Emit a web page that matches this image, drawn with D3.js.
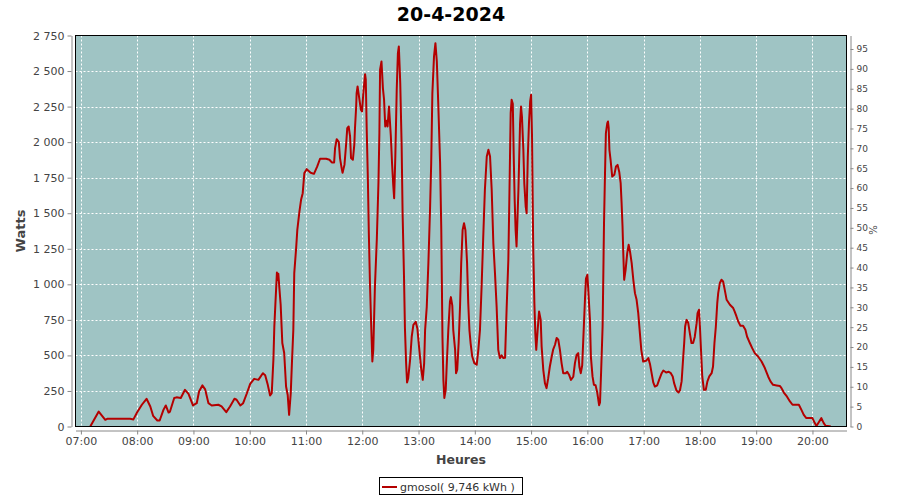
<!DOCTYPE html>
<html>
<head>
<meta charset="utf-8">
<script src="https://cdn.jsdelivr.net/npm/d3@7/dist/d3.min.js"></script>
<style>
  body { margin: 0; background: #fff; }
  svg { display: block; font-family: "DejaVu Sans", sans-serif; }
</style>
</head>
<body>
<svg id="chart" width="900" height="500"></svg>
<script>
const chartTitle = "20-4-2024";
const seriesName = "gmosol( 9,746 kWh )";
const yLabel = "Watts";
const y2Label = "%";
const xLabel = "Heures";
const day = "2024-04-20";
const xDomain = ["06:54:15", "20:36:18"];
const xTickTimes = ["07:00","08:00","09:00","10:00","11:00","12:00","13:00","14:00","15:00","16:00","17:00","18:00","19:00","20:00"];
const yTicks = [0,250,500,750,1000,1250,1500,1750,2000,2250,2500,2750];
const y2Ticks = [0,5,10,15,20,25,30,35,40,45,50,55,60,65,70,75,80,85,90,95];
const yMax = 2750;
const y2Max = 98.4;

const times = ["07:10:00","07:19:00","07:26:00","07:28:00","07:52:30","07:56:00","08:00:00","08:05:00","08:10:00","08:14:00","08:17:00","08:21:30","08:24:00","08:28:00","08:30:30","08:33:30","08:35:00","08:39:30","08:42:00","08:46:30","08:51:00","08:54:45","08:59:30","09:03:30","09:06:00","09:09:30","09:12:30","09:16:00","09:19:30","09:26:30","09:30:00","09:35:00","09:39:00","09:43:45","09:46:00","09:50:00","09:53:00","09:57:00","10:00:30","10:04:45","10:09:15","10:14:00","10:16:30","10:19:15","10:21:45","10:23:30","10:25:15","10:26:15","10:27:30","10:29:00","10:30:00","10:30:30","10:31:30","10:33:00","10:34:45","10:36:45","10:38:45","10:40:30","10:42:00","10:43:45","10:45:00","10:46:30","10:47:30","10:49:30","10:50:45","10:53:00","10:54:45","10:56:30","10:58:15","11:00:45","11:05:00","11:08:30","11:12:00","11:15:00","11:21:30","11:25:00","11:27:30","11:30:00","11:31:00","11:32:45","11:35:00","11:36:15","11:38:00","11:39:00","11:41:00","11:42:45","11:44:00","11:45:30","11:47:00","11:48:00","11:50:00","11:51:30","11:52:15","11:53:30","11:54:00","11:55:00","11:56:30","11:58:30","11:59:45","12:01:00","12:03:00","12:03:45","12:04:45","12:06:00","12:07:00","12:08:15","12:09:30","12:10:45","12:11:45","12:13:30","12:15:30","12:17:15","12:18:15","12:19:00","12:20:30","12:22:00","12:23:15","12:24:30","12:26:00","12:27:00","12:28:30","12:30:30","12:31:45","12:33:00","12:34:00","12:35:15","12:36:45","12:38:00","12:39:00","12:40:30","12:42:00","12:43:00","12:44:30","12:45:30","12:46:45","12:47:45","12:49:00","12:51:00","12:52:45","12:54:30","12:57:00","12:58:45","13:00:30","13:02:45","13:04:30","13:06:00","13:07:00","13:08:45","13:10:30","13:12:15","13:13:30","13:14:45","13:16:30","13:18:00","13:19:30","13:21:00","13:23:00","13:24:15","13:25:30","13:26:30","13:27:30","13:29:00","13:30:00","13:31:45","13:33:30","13:34:30","13:36:00","13:37:00","13:39:00","13:40:00","13:41:15","13:42:45","13:44:15","13:45:30","13:47:00","13:48:30","13:50:00","13:51:45","13:53:00","13:54:15","13:55:30","13:57:15","13:59:30","14:02:00","14:03:45","14:05:30","14:07:15","14:09:00","14:10:45","14:12:45","14:14:30","14:16:15","14:18:00","14:19:45","14:21:30","14:23:15","14:25:00","14:26:45","14:28:30","14:30:30","14:32:15","14:34:00","14:35:45","14:36:45","14:38:15","14:39:15","14:40:30","14:41:30","14:42:30","14:43:30","14:44:30","14:46:30","14:48:15","14:49:15","14:50:15","14:51:45","14:52:45","14:54:15","14:55:15","14:56:30","14:57:45","14:59:00","15:00:00","15:01:00","15:02:15","15:03:30","15:04:30","15:05:30","15:07:00","15:08:30","15:10:15","15:11:15","15:13:00","15:14:45","15:16:30","15:18:15","15:20:00","15:22:00","15:23:30","15:25:30","15:27:15","15:29:00","15:30:45","15:32:30","15:34:15","15:37:00","15:38:30","15:40:45","15:42:30","15:45:00","15:46:45","15:48:30","15:50:15","15:51:30","15:53:00","15:54:30","15:55:30","15:57:30","15:58:30","16:00:00","16:01:00","16:02:45","16:03:45","16:05:30","16:07:00","16:08:45","16:10:30","16:12:30","16:13:30","16:14:45","16:16:15","16:17:00","16:17:45","16:18:45","16:19:45","16:21:15","16:22:00","16:22:45","16:23:30","16:24:45","16:26:30","16:28:45","16:30:30","16:32:15","16:34:00","16:35:30","16:36:30","16:37:30","16:38:15","16:39:15","16:40:45","16:42:30","16:44:00","16:45:30","16:47:15","16:49:00","16:50:45","16:52:30","16:54:15","16:56:00","16:57:30","16:59:30","17:02:30","17:05:00","17:06:45","17:08:30","17:10:15","17:12:00","17:14:30","17:16:30","17:19:15","17:21:00","17:24:00","17:26:45","17:29:00","17:31:00","17:32:30","17:35:00","17:37:15","17:38:45","17:40:30","17:42:15","17:43:15","17:44:15","17:45:45","17:47:30","17:49:15","17:51:00","17:52:45","17:54:30","17:56:30","17:57:30","17:59:00","18:00:00","18:01:00","18:02:30","18:04:15","18:06:15","18:08:00","18:10:00","18:12:30","18:14:00","18:15:30","18:17:00","18:18:30","18:19:30","18:21:15","18:23:00","18:24:45","18:26:30","18:28:30","18:32:00","18:35:30","18:37:00","18:39:00","18:40:45","18:43:15","18:46:00","18:48:30","18:50:15","18:53:15","18:55:45","18:58:30","19:02:00","19:05:45","19:09:15","19:12:45","19:15:15","19:18:00","19:21:45","19:25:15","19:27:00","19:29:30","19:32:15","19:36:00","19:38:45","19:45:30","19:48:15","19:50:45","19:53:30","20:00:00","20:02:30","20:04:15","20:06:45","20:09:30","20:12:00","20:14:00","20:18:15","20:19:30"];

const watts = [0,105,47,54,54,50,100,153,195,141,75,42,42,117,148,98,105,200,205,200,258,230,148,164,246,289,261,164,148,153,141,101,141,195,188,148,164,234,300,335,328,375,360,293,218,235,469,703,880,1083,1030,1075,985,856,587,517,281,222,82,235,446,680,1079,1255,1383,1512,1594,1641,1782,1810,1785,1777,1829,1883,1883,1876,1857,1857,1958,2021,2000,1888,1817,1784,1840,1981,2099,2110,2040,1888,1876,1981,2099,2251,2345,2392,2322,2228,2216,2333,2478,2440,2087,1735,1360,997,715,457,540,985,1313,1712,2063,2509,2567,2380,2298,2110,2150,2110,2251,2040,1852,1700,1606,1900,2368,2626,2673,2415,1969,1501,1055,692,446,309,340,469,633,715,736,690,563,411,328,446,680,840,1149,1524,1852,2345,2603,2696,2567,2275,1852,1383,633,328,200,260,422,680,879,910,850,680,539,375,400,587,844,1149,1383,1430,1380,1149,868,680,587,492,446,434,539,680,985,1336,1665,1899,1946,1899,1665,1290,1079,844,539,481,500,481,483,844,1172,1571,2204,2298,2270,1899,1594,1383,1266,1665,2134,2251,2180,1946,1712,1547,1500,1899,2134,2286,2333,2040,1266,868,657,539,680,809,750,563,399,305,270,340,422,492,540,575,622,610,539,446,375,375,385,360,328,350,446,504,516,420,375,430,587,900,1040,1067,960,750,492,352,293,290,240,150,170,399,703,1055,1430,1758,2063,2134,2145,2100,1946,1876,1758,1770,1829,1840,1790,1712,1571,1407,1231,1032,1100,1219,1278,1230,1149,1032,938,891,797,657,539,457,462,481,440,375,310,281,290,328,375,394,380,385,375,352,305,253,239,255,317,492,587,703,750,730,657,587,587,630,727,797,821,703,563,352,258,258,317,352,375,422,587,703,868,938,1009,1032,1020,961,891,856,833,810,774,740,708,708,680,633,587,551,516,492,457,411,352,317,293,289,285,270,239,216,176,153,153,117,82,59,59,24,3,30,59,24,5,2,0];

const parseT = d3.timeParse("%Y-%m-%d %H:%M:%S");
const parseHM = d3.timeParse("%Y-%m-%d %H:%M");
const data = times.map((t, i) => ({ t: parseT(day + " " + t), v: watts[i] }));

const svg = d3.select("#chart");
const plot = { left: 75.5, top: 35.5, right: 846.5, bottom: 426.5 };

const x = d3.scaleTime()
  .domain(xDomain.map(t => parseT(day + " " + t)))
  .range([plot.left, plot.right]);
const y = d3.scaleLinear().domain([0, yMax]).range([plot.bottom, plot.top]);
const y2 = d3.scaleLinear().domain([0, y2Max]).range([plot.bottom, plot.top]);

const frLocale = d3.formatLocale({ decimal: ",", thousands: " ", grouping: [3], currency: ["", ""] });
const fmt = frLocale.format(",d");

// plot background
svg.append("rect")
  .attr("x", plot.left).attr("y", plot.top)
  .attr("width", plot.right - plot.left).attr("height", plot.bottom - plot.top)
  .attr("fill", "#9fc4c4");

// grid
const xTicks = xTickTimes.map(t => parseHM(day + " " + t));
const grid = svg.append("g").attr("stroke", "#fff").attr("stroke-width", 1).attr("stroke-dasharray", "2,2");
grid.selectAll("line.v").data(xTicks).enter().append("line")
  .attr("x1", d => Math.round(x(d)) + 0.5).attr("x2", d => Math.round(x(d)) + 0.5)
  .attr("y1", plot.top).attr("y2", plot.bottom);
grid.selectAll("line.h").data(yTicks.filter(d => d > 0 && d < yMax)).enter().append("line")
  .attr("y1", d => Math.round(y(d)) + 0.5).attr("y2", d => Math.round(y(d)) + 0.5)
  .attr("x1", plot.left).attr("x2", plot.right);

// clip
svg.append("clipPath").attr("id", "clip").append("rect")
  .attr("x", plot.left).attr("y", plot.top)
  .attr("width", plot.right - plot.left).attr("height", plot.bottom - plot.top);

const line = d3.line().x(d => x(d.t)).y(d => y(d.v));
svg.append("path").datum(data)
  .attr("clip-path", "url(#clip)")
  .attr("d", line)
  .attr("fill", "none")
  .attr("stroke", "#b40000")
  .attr("stroke-width", 2)
  .attr("stroke-linejoin", "round");

// border
svg.append("rect")
  .attr("x", plot.left).attr("y", plot.top)
  .attr("width", plot.right - plot.left).attr("height", plot.bottom - plot.top)
  .attr("fill", "none").attr("stroke", "#000").attr("stroke-width", 1);

function styleAxis(g, size) {
  g.select(".domain").attr("stroke", "#888");
  g.selectAll(".tick line").attr("stroke", "#888");
  g.selectAll(".tick text").attr("fill", "#444").attr("font-size", size)
    .attr("font-family", "DejaVu Sans, sans-serif");
}

// left axis
const gy = svg.append("g").attr("transform", "translate(71.5,0)")
  .call(d3.axisLeft(y).tickValues(yTicks).tickFormat(fmt).tickSize(4).tickSizeOuter(0).tickPadding(3));
styleAxis(gy, 11);

// right axis
const gy2 = svg.append("g").attr("transform", "translate(850.5,0)")
  .call(d3.axisRight(y2).tickValues(y2Ticks).tickFormat(d3.format("d")).tickSize(3).tickSizeOuter(0).tickPadding(3));
styleAxis(gy2, 9);

// bottom axis
const gx = svg.append("g").attr("transform", "translate(0,430.5)")
  .call(d3.axisBottom(x).tickValues(xTicks).tickFormat(d3.timeFormat("%H:%M")).tickSize(4).tickSizeOuter(0).tickPadding(3));
styleAxis(gx, 11);

// title
svg.append("text").attr("x", 451).attr("y", 21).attr("text-anchor", "middle")
  .attr("font-size", 19).attr("font-weight", "bold").attr("fill", "#000").text(chartTitle);

// axis labels
svg.append("text").attr("x", 461).attr("y", 464).attr("text-anchor", "middle")
  .attr("font-size", 12.5).attr("font-weight", "bold").attr("fill", "#444").text(xLabel);
svg.append("text").attr("transform", "translate(25,231) rotate(-90)").attr("text-anchor", "middle")
  .attr("font-size", 13).attr("font-weight", "bold").attr("fill", "#444").text(yLabel);
svg.append("text").attr("transform", "translate(877,230) rotate(-90)").attr("text-anchor", "middle")
  .attr("font-size", 10).attr("fill", "#444").text(y2Label);

// legend
const lg = svg.append("g");
lg.append("rect").attr("x", 379.5).attr("y", 477.5).attr("width", 143).attr("height", 17)
  .attr("fill", "#fff").attr("stroke", "#000");
lg.append("line").attr("x1", 382).attr("x2", 397).attr("y1", 487).attr("y2", 487)
  .attr("stroke", "#b40000").attr("stroke-width", 2);
lg.append("text").attr("x", 400).attr("y", 491).attr("font-size", 11).attr("fill", "#333").text(seriesName);
</script>
</body>
</html>
